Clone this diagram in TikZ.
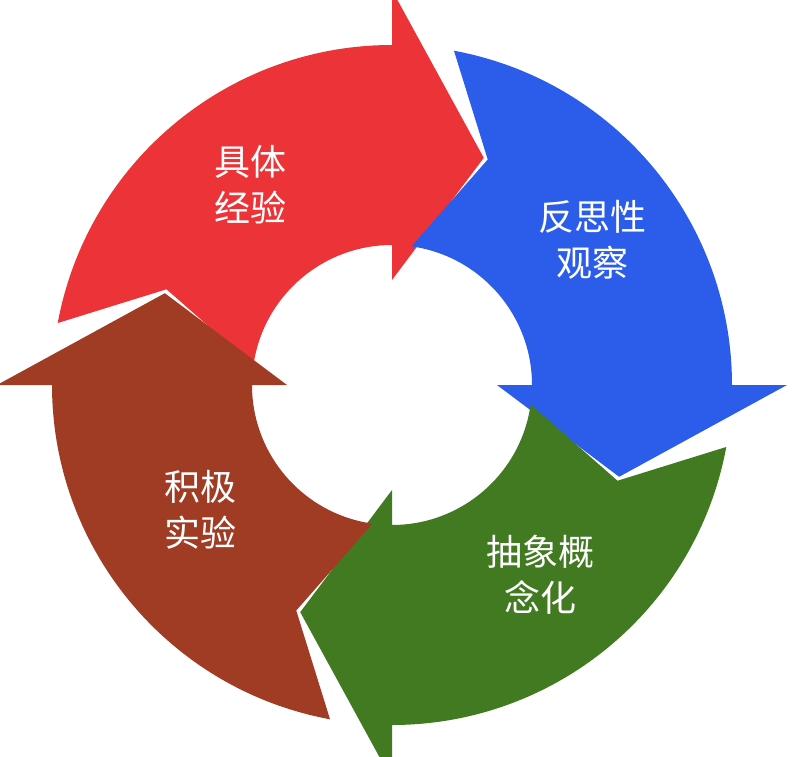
\documentclass[tikz,border=0pt]{standalone}
\usepackage{fontspec}
\newfontfamily\cjk{Noto Sans CJK SC}
\begin{document}
\begin{tikzpicture}[x=1pt,y=1pt,
  lbl/.style={text=white,font=\cjk\fontsize{36}{46}\selectfont,align=center}]
\useasboundingbox (0,0) rectangle (793,-757);
\definecolor{cred}{HTML}{EC3438}
\definecolor{cblue}{HTML}{2C5CEA}
\definecolor{cgreen}{HTML}{427A22}
\definecolor{cbrown}{HTML}{A03C24}
\begin{scope}[shift={(392,-385)}]
\foreach \B/\c in {90/cred,0/cblue,-90/cgreen,180/cbrown}{
  \pgfmathsetmacro{\ti}{\B+82}
  \pgfmathsetmacro{\to}{\B+79.5}
  \pgfmathsetmacro{\tn}{\B+67}
  \pgfmathsetmacro{\tp}{\B-22}
  \fill[\c] (\ti:140) arc[start angle=\ti,end angle=\B,radius=140]
    -- (\B:105) -- (\tp:245) -- (\B:395) -- (\B:340)
    arc[start angle=\B,end angle=\to,radius=340] -- (\tn:245) -- cycle;
}
\end{scope}
\node[lbl] (a) at (250,-185) {具体\\经验};
\node[lbl] (b) at (592,-240) {反思性\\观察};
\node[lbl] (c) at (540,-575) {抽象概\\念化};
\node[lbl] (d) at (200,-510) {积极\\实验};
\end{tikzpicture}
\end{document}
